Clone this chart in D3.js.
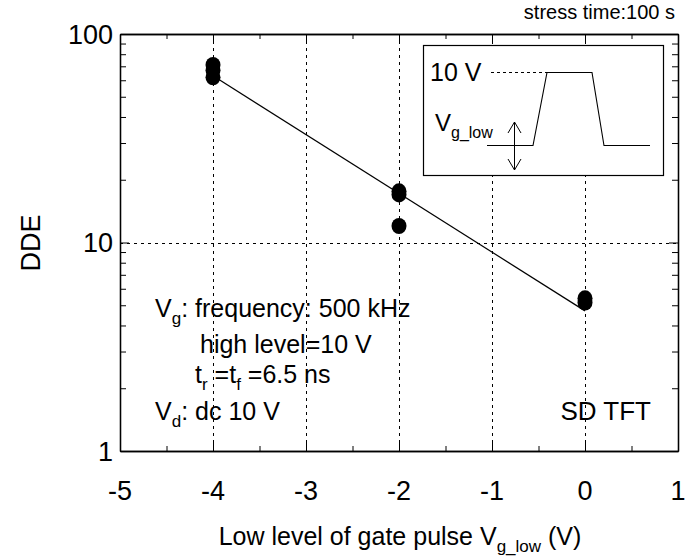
<!DOCTYPE html>
<html><head><meta charset="utf-8">
<script src="https://cdn.jsdelivr.net/npm/d3@7"></script>
<style>body{margin:0;background:#fff} text{font-family:"Liberation Sans", Arial, Helvetica, sans-serif; fill:#000}</style>
</head><body><svg id="c" width="688" height="559"></svg>
<script>
// ---- data ----
const xTicks = [-5, -4, -3, -2, -1, 0, 1];
const xMinorTicks = [-4.5, -3.5, -2.5, -1.5, -0.5, 0.5];
const yTicks = [1, 10, 100];
const yMinorTicks = [2,3,4,5,6,7,8,9,20,30,40,50,60,70,80,90];
const gridX = [-4, -3, -2, -1, 0];
const gridY = [10];
const pointX = [-4, -4, -4, -2, -2, -2, 0, 0];
const pointY = [71, 67, 62, 17.6, 17.0, 12.0, 5.4, 5.15];
const fitX = [-4, 0];
const fitY = [63, 4.7];

const svg = d3.select("#c");
const L = 120, R = 678, T = 34, B = 451;
const x = d3.scaleLinear().domain([-5, 1]).range([L, R]);
const y = d3.scaleLog().domain([1, 100]).range([B, T]);

// grid
const grid = svg.append("g").attr("stroke", "#000").attr("stroke-width", 1).attr("stroke-dasharray", "3,4");
grid.selectAll(".gx").data(gridX).join("line")
  .attr("x1", d => Math.round(x(d)) + 0.5).attr("x2", d => Math.round(x(d)) + 0.5)
  .attr("y1", T).attr("y2", B);
grid.selectAll(".gy").data(gridY).join("line")
  .attr("y1", d => Math.round(y(d)) + 0.5).attr("y2", d => Math.round(y(d)) + 0.5)
  .attr("x1", L).attr("x2", R);

// axes with inward ticks
function styleAxis(g) { g.selectAll("text").remove(); g.select(".domain").attr("stroke", "#000").attr("stroke-width", 1.3); g.selectAll(".tick line").attr("stroke", "#000"); }
svg.append("g").attr("transform", `translate(0,${B})`).call(d3.axisBottom(x).tickValues(xTicks).tickSize(-8).tickSizeOuter(0)).call(styleAxis);
svg.append("g").attr("transform", `translate(0,${B})`).call(d3.axisBottom(x).tickValues(xMinorTicks).tickSize(-5).tickSizeOuter(0)).call(styleAxis);
svg.append("g").attr("transform", `translate(0,${T})`).call(d3.axisTop(x).tickValues(xTicks).tickSize(-8).tickSizeOuter(0)).call(styleAxis);
svg.append("g").attr("transform", `translate(0,${T})`).call(d3.axisTop(x).tickValues(xMinorTicks).tickSize(-5).tickSizeOuter(0)).call(styleAxis);
svg.append("g").attr("transform", `translate(${L},0)`).call(d3.axisLeft(y).tickValues(yTicks).tickSize(-9).tickSizeOuter(0)).call(styleAxis);
svg.append("g").attr("transform", `translate(${L},0)`).call(d3.axisLeft(y).tickValues(yMinorTicks).tickSize(-6).tickSizeOuter(0)).call(styleAxis);
svg.append("g").attr("transform", `translate(${R},0)`).call(d3.axisRight(y).tickValues(yTicks).tickSize(-9).tickSizeOuter(0)).call(styleAxis);
svg.append("g").attr("transform", `translate(${R},0)`).call(d3.axisRight(y).tickValues(yMinorTicks).tickSize(-6).tickSizeOuter(0)).call(styleAxis);

// tick labels
svg.selectAll(".xl").data(xTicks).join("text")
  .attr("x", d => x(d)).attr("y", 500).attr("text-anchor", "middle").attr("font-size", 27).text(d => d);
svg.selectAll(".yl").data(yTicks).join("text")
  .attr("x", L - 7).attr("y", d => y(d)).attr("dy", "0.36em").attr("text-anchor", "end").attr("font-size", 27).text(d => d);

// fit line
svg.append("path").datum(fitX.map((d, i) => [d, fitY[i]]))
  .attr("d", d3.line().x(d => x(d[0])).y(d => y(d[1])))
  .attr("stroke", "#000").attr("stroke-width", 1.2).attr("fill", "none");

// points
svg.selectAll(".pt").data(pointX.map((d, i) => [d, pointY[i]])).join("ellipse")
  .attr("cx", d => x(d[0])).attr("cy", d => y(d[1])).attr("rx", 7.5).attr("ry", 8).attr("fill", "#000");

// axis titles
svg.append("text").attr("transform", "translate(40,243) rotate(-90)").attr("text-anchor", "middle")
  .attr("font-size", 27).text("DDE");
const xt = svg.append("text").attr("x", 400).attr("y", 545).attr("text-anchor", "middle").attr("font-size", 25);
xt.append("tspan").text("Low level of gate pulse V");
xt.append("tspan").attr("font-size", 17).attr("dy", 7).text("g_low");
xt.append("tspan").attr("dy", -7).text(" (V)");

svg.append("text").attr("x", 675).attr("y", 19).attr("text-anchor", "end").attr("font-size", 20).text("stress time:100 s");

// text block
const FS = 25, SFS = 17;
let t1 = svg.append("text").attr("x", 155).attr("y", 317).attr("font-size", FS);
t1.append("tspan").text("V"); t1.append("tspan").attr("font-size", SFS).attr("dy", 7).text("g"); t1.append("tspan").attr("dy", -7).text(": frequency: 500 kHz");
svg.append("text").attr("x", 200).attr("y", 353).attr("font-size", FS).text("high level=10 V");
let t3 = svg.append("text").attr("x", 195).attr("y", 383).attr("font-size", FS);
t3.append("tspan").text("t"); t3.append("tspan").attr("font-size", SFS).attr("dy", 7).text("r");
t3.append("tspan").attr("dy", -7).text(" =t"); t3.append("tspan").attr("font-size", SFS).attr("dy", 7).text("f");
t3.append("tspan").attr("dy", -7).text(" =6.5 ns");
let t4 = svg.append("text").attr("x", 155).attr("y", 420).attr("font-size", FS);
t4.append("tspan").text("V"); t4.append("tspan").attr("font-size", SFS).attr("dy", 7).text("d"); t4.append("tspan").attr("dy", -7).text(": dc 10 V");
svg.append("text").attr("x", 651).attr("y", 420).attr("text-anchor", "end").attr("font-size", 26).text("SD TFT");

// inset
const ins = svg.append("g").attr("transform", "translate(423,45)");
ins.append("rect").attr("x", 0.5).attr("y", 0.5).attr("width", 240).attr("height", 130).attr("fill", "#fff").attr("stroke", "#000").attr("stroke-width", 1.2);
ins.append("text").attr("x", 7).attr("y", 36).attr("font-size", 25).text("10 V");
ins.append("line").attr("x1", 68).attr("x2", 124).attr("y1", 27.5).attr("y2", 27.5).attr("stroke", "#000").attr("stroke-dasharray", "3,3");
ins.append("path").attr("d", "M64,100.5 L110,100.5 L124,27.5 L169,27.5 L181,100.5 L227,100.5").attr("fill", "none").attr("stroke", "#000").attr("stroke-width", 1.1);
ins.append("path").attr("d", "M91.5,77 L91.5,125 M85,88 L91.5,77 L98,88 M85,114 L91.5,125 L98,114").attr("fill", "none").attr("stroke", "#000").attr("stroke-width", 1);
let iv = ins.append("text").attr("x", 12).attr("y", 86).attr("font-size", 24);
iv.append("tspan").text("V"); iv.append("tspan").attr("font-size", 16).attr("dy", 7).text("g_low");
</script></body></html>
